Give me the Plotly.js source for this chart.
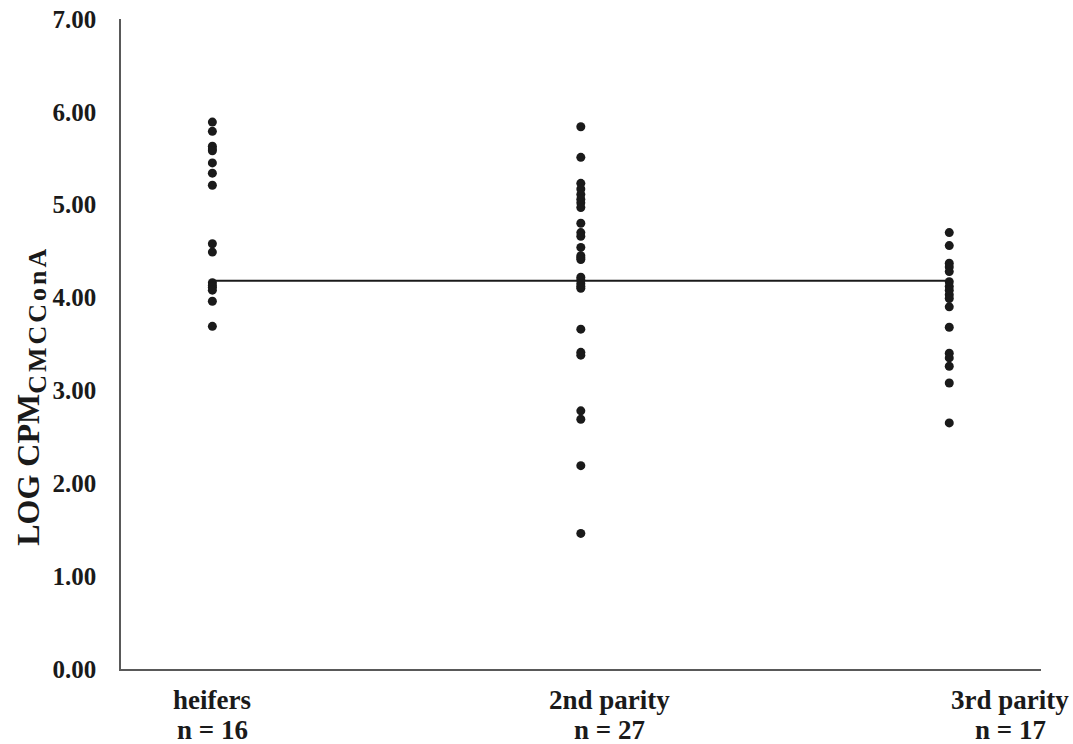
<!DOCTYPE html>
<html>
<head>
<meta charset="utf-8">
<script src="https://cdn.plot.ly/plotly-3.0.1.min.js"></script>
<style>html,body{margin:0;padding:0;background:#fff;}#chart{width:1073px;height:744px;}</style>
</head>
<body>
<div id="chart"></div>
<script>
// ---- data ----
const categories = ["heifers", "2nd parity", "3rd parity"];
const groupCounts = ["n = 16", "n = 27", "n = 17"];
const heifers = [5.89, 5.79, 5.63, 5.60, 5.58, 5.45, 5.34, 5.21, 4.58, 4.49, 4.16, 4.13, 4.11, 4.08, 3.96, 3.69];
const parity2 = [5.84, 5.51, 5.23, 5.17, 5.11, 5.06, 5.02, 4.97, 4.80, 4.70, 4.66, 4.54, 4.45, 4.43, 4.41, 4.22, 4.19, 4.15, 4.12, 4.10, 3.66, 3.41, 3.38, 2.78, 2.69, 2.19, 1.46];
const parity3 = [4.70, 4.56, 4.37, 4.33, 4.28, 4.17, 4.12, 4.08, 4.03, 3.99, 3.90, 3.68, 3.40, 3.35, 3.26, 3.08, 2.65];
const referenceLine = 4.18;
const yTicks = [0, 1, 2, 3, 4, 5, 6, 7];

// ---- style ----
const serif = "'Liberation Serif', 'Times New Roman', serif";
const ink = "#1a1a1a";
const labelShift = [0, 0.077, 0.166];

const groups = [heifers, parity2, parity3];
const traces = groups.map((vals, i) => ({
  type: "scatter",
  mode: "markers",
  x: vals.map(() => i),
  y: vals,
  marker: {color: ink, size: 9, line: {width: 0}},
  hoverinfo: "y",
  showlegend: false
}));
traces.push({
  type: "scatter",
  mode: "lines",
  x: [0, categories.length - 1],
  y: [referenceLine, referenceLine],
  line: {color: ink, width: 2},
  hoverinfo: "skip",
  showlegend: false
});

const annotations = [];
categories.forEach((c, i) => {
  annotations.push({
    xref: "x", yref: "paper", x: i + labelShift[i], y: -0.047,
    text: "<b>" + c + "</b>", showarrow: false, xanchor: "center", yanchor: "middle",
    font: {family: serif, size: 27, color: ink}
  });
  annotations.push({
    xref: "x", yref: "paper", x: i + labelShift[i], y: -0.094,
    text: "<b>" + groupCounts[i] + "</b>", showarrow: false, xanchor: "center", yanchor: "middle",
    font: {family: serif, size: 27, color: ink}
  });
});
annotations.push({
  xref: "paper", yref: "paper", x: -0.098, y: 0.42,
  xanchor: "center", yanchor: "middle", textangle: -90, showarrow: false,
  text: "<b>LOG CPM<sub><span style=\"font-size:26px;letter-spacing:3px\">CMCConA</span></sub></b>",
  font: {family: serif, size: 32, color: ink}
});

const layout = {
  width: 1073, height: 744,
  margin: {l: 121, r: 32, t: 19, b: 75},
  paper_bgcolor: "#ffffff", plot_bgcolor: "#ffffff",
  xaxis: {
    range: [-0.248, 2.249],
    showgrid: false, zeroline: false, showticklabels: false, ticks: "",
    showline: true, linecolor: "#595959", linewidth: 1.5
  },
  yaxis: {
    range: [0, 7],
    tickvals: yTicks, tickformat: ".2f",
    showgrid: false, zeroline: false, ticks: "",
    showline: true, linecolor: "#595959", linewidth: 1.5,
    ticklabelstandoff: 18,
    tickfont: {family: serif, size: 25, color: ink, weight: "bold"}
  },
  annotations: annotations,
  hovermode: "closest"
};

Plotly.newPlot("chart", traces, layout, {displayModeBar: false, staticPlot: false});
</script>
</body>
</html>
